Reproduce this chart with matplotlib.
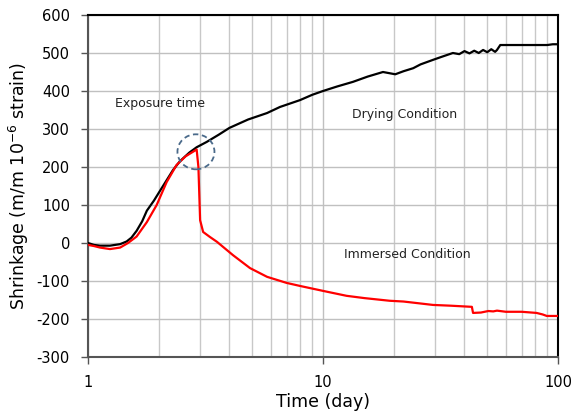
import matplotlib
matplotlib.use('Agg')
import matplotlib.pyplot as plt
from matplotlib.patches import Ellipse
from matplotlib.transforms import IdentityTransform

# drying condition (black)
dry_t = [1.0, 1.06, 1.125, 1.24, 1.37, 1.46, 1.53, 1.61, 1.7, 1.78, 1.91, 2.0, 2.16, 2.3, 2.46, 2.7,
         2.9, 3.2, 3.6, 4.0, 4.8, 5.78, 6.56, 7.98, 9.0, 10.0, 11.5, 13.4, 15.5, 18.0, 20.3,
         22.0, 24.2, 26.0, 29.4, 32.0, 35.7, 38.0, 40.0, 42.0, 44.0, 46.0, 48.0, 50.0, 52.0,
         54.0, 55.0, 56.8, 70.0, 90.0, 95.0, 100.0]
dry_s = [0, -5, -7, -7, -3, 4, 14, 32, 57, 85, 112, 132, 165, 192, 215, 238,
         252, 266, 285, 303, 325, 342, 358, 376, 390, 400, 412, 424, 438, 450, 444,
         452, 460, 470, 482, 490, 500, 497, 505, 499, 506, 500, 508, 502, 510,
         503, 508, 521, 521, 521, 523, 523]

# immersed condition (red)
imm_t = [1.0, 1.06, 1.125, 1.24, 1.37, 1.48, 1.61, 1.78, 1.96, 2.16, 2.38, 2.6, 2.9, 2.95,
         3.0, 3.09, 3.3, 3.54, 4.14, 4.89, 5.78, 7.0, 7.98, 10.0, 12.6, 15.0, 19.2, 22.0,
         29.4, 35.0, 43.0, 43.5, 47.0, 50.5, 53.0, 55.0, 60.0, 70.0, 81.0, 86.0, 89.6, 100.0]
imm_s = [-5, -8, -12, -16, -12, 0, 17, 55, 100, 160, 205, 228, 246, 200,
         60, 29, 16, 3, -32, -66, -89, -105, -113, -126, -139, -145, -152, -154,
         -163, -165, -168, -184, -183, -179, -180, -178, -181, -181, -184, -188, -192, -192]

circle_at = (2.88, 240)

plt.rcParams['font.family'] = 'DejaVu Sans'
plt.rcParams['axes.unicode_minus'] = False

fig = plt.figure(figsize=(5.79, 4.16), dpi=100)
ax = fig.add_axes([88/579, 1-357/416, 470/579, 342/416])

ax.plot(dry_t, dry_s, color='black', lw=1.6, zorder=3)
ax.plot(imm_t, imm_s, color='#ff0000', lw=1.6, zorder=3)

ax.set_xscale('log')
ax.set_xlim(1, 100)
ax.set_ylim(-300, 600)
ax.set_yticks(range(-300, 601, 100))
ax.set_xticks([1, 10, 100])
ax.set_xticklabels(['1', '10', '100'])
ax.grid(True, which='major', color='#c0c0c0', lw=1.0)
ax.grid(True, which='minor', axis='x', color='#c8c8c8', lw=1.0)
ax.set_axisbelow(True)
ax.tick_params(axis='x', which='minor', length=0)
ax.tick_params(axis='both', which='major', direction='out', length=5, width=1,
               labelsize=10.5, pad=8, color='#555555')
for s in ax.spines.values():
    s.set_linewidth(1.5)
    s.set_color('black')
ax.spines['left'].set_color('#555555')
ax.spines['bottom'].set_color('#555555')

ax.set_xlabel('Time (day)', fontsize=12.5, labelpad=2)
ax.set_ylabel('Shrinkage (m/m 10$^{-6}$ strain)', fontsize=12.5, labelpad=4)

ax.text(1.30, 366, 'Exposure time', fontsize=9, va='center', color='#222222')
ax.text(13.3, 337, 'Drying Condition', fontsize=9, va='center', color='#222222')
ax.text(12.3, -29, 'Immersed Condition', fontsize=9, va='center', color='#222222')

fig.canvas.draw()
cx, cy = ax.transData.transform(circle_at)
ax.add_patch(Ellipse((cx, cy), 37, 35, transform=IdentityTransform(), fill=False,
                     edgecolor='#4a6a8a', lw=1.3, ls=(0, (3, 2)), zorder=4))

fig.savefig('out.png', dpi=100)
